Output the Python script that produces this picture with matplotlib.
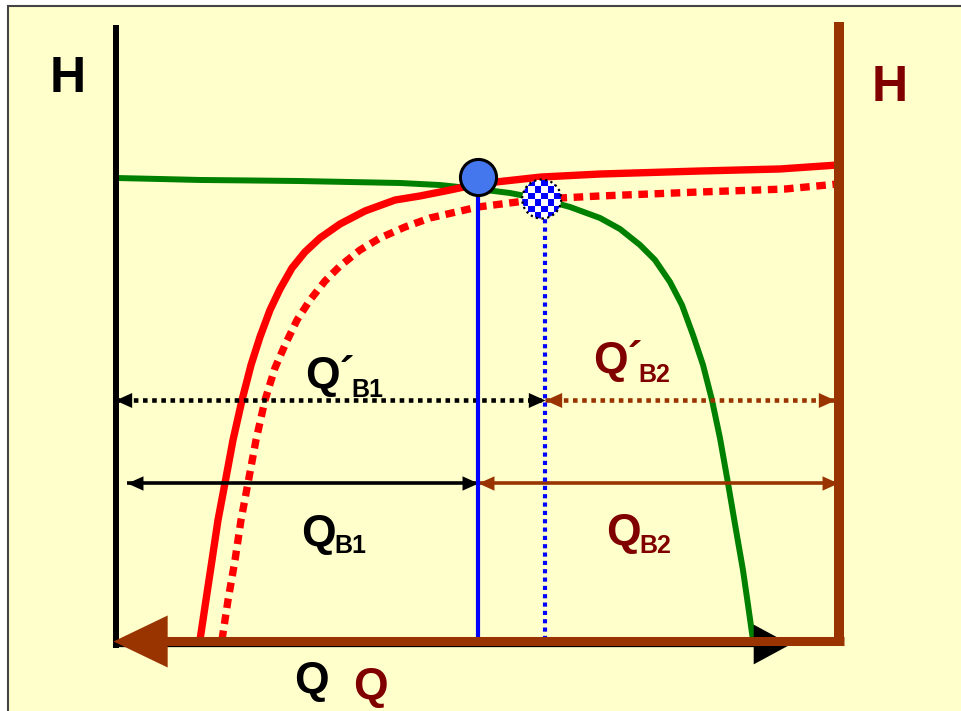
import numpy as np
import matplotlib
matplotlib.use("Agg")
import matplotlib.pyplot as plt
from matplotlib.patches import Ellipse, Rectangle
from matplotlib.path import Path
from matplotlib.colors import ListedColormap

# ---------------- data (Q: 0..100 between the two H axes, H: 0..100 above the Q axis)
green_q = [0, 5.96, 11.51, 18.45, 25.38, 32.32, 39.25, 44.80, 50.07, 54.51, 58.81, 62.83,
           66.99, 69.76, 72.54, 74.62, 76.70, 78.36, 79.89, 81.28, 82.52, 83.63, 84.74,
           85.85, 86.82, 87.52, 88.21]
green_h = [75.12, 74.96, 74.80, 74.72, 74.63, 74.47, 74.31, 73.98, 73.33, 72.68, 71.71, 70.41,
           68.62, 66.83, 64.23, 61.79, 58.21, 54.47, 49.59, 44.72, 39.02, 32.85, 25.53,
           17.89, 11.38, 5.69, 0]

red_q = [11.51, 12.34, 13.18, 14.01, 14.98, 16.09, 17.34, 18.59, 19.83, 21.22, 22.61, 24.27,
         26.07, 28.16, 30.93, 34.40, 38.56, 42.02, 46.19, 50.07, 58.81, 66.99, 80.86, 91.96, 100]
red_h = [0, 6.50, 13.01, 19.51, 25.53, 32.52, 39.02, 44.72, 49.27, 53.66, 57.07, 60.49,
         63.09, 65.37, 67.64, 69.76, 71.54, 72.20, 73.17, 74.15, 75.28, 75.77, 76.26, 76.59, 77.24]

red2_q = [14.56, 15.40, 16.37, 17.20, 18.17, 19.28, 20.53, 21.91, 23.30, 24.97, 26.77, 28.85,
          30.93, 33.70, 36.48, 39.94, 43.41, 50.07, 58.81, 66.99, 80.86, 92.65, 100]
red2_h = [0, 6.50, 13.01, 19.51, 25.53, 32.52, 39.02, 44.23, 47.97, 52.03, 55.28, 58.37,
          60.81, 63.41, 65.37, 67.15, 68.62, 70.41, 71.71, 72.20, 72.85, 73.33, 74.15]

op1 = (50.1, 75.3)      # blue operating point
op2 = (58.9, 71.7)      # checkered operating point
q_op1 = 50.0
q_op2 = 59.4
h_prime = 39.0          # level of Q'B1 / Q'B2 arrows
h_flow = 25.5           # level of QB1 / QB2 arrows

BROWN = "#993300"
DARKRED = "#800000"
BG = "#FFFFCC"

W, H = 961, 711
fig = plt.figure(figsize=(W / 100, H / 100), dpi=100)
fig.patch.set_facecolor("white")
fig.patches.append(Rectangle((8 / W, -0.1), 1.2, (H - 6) / H + 0.1, transform=fig.transFigure,
                             facecolor=BG, edgecolor="#444444", lw=1.5, zorder=-5))

# axes region: Q=0 at x=117px, Q=100 at x=838px ; H=0 at y=640px, H=100 at y=25px
x0, x1, ytop, ybot = 117, 838, 25, 640
ax = fig.add_axes([x0 / W, (H - ybot) / H, (x1 - x0) / W, (ybot - ytop) / H])
ax.set_zorder(1)
ax.set_xlim(0, 100)
ax.set_ylim(0, 100)
ax.axis("off")
ax.patch.set_alpha(0)

px_q = 100 / (x1 - x0)
px_h = 100 / (ybot - ytop)

def head(direction, ratio):
    if direction == "right":
        v = [(0, 0), (-1, ratio), (-1, -ratio), (0, 0)]
    else:
        v = [(0, 0), (1, ratio), (1, -ratio), (0, 0)]
    return Path(v, [Path.MOVETO, Path.LINETO, Path.LINETO, Path.CLOSEPOLY])

# ---------------- axes lines
ax.plot([-0.14, -0.14], [100, -1.3], color="black", lw=4.3, solid_capstyle="butt", clip_on=False, zorder=4)
ax.plot([-0.5, 90], [-0.7, -0.7], color="black", lw=3.8, solid_capstyle="butt", clip_on=False, zorder=4)
ax.plot([93.3], [-0.7], marker=head("right", 0.54), ms=53, color="black", mew=0, clip_on=False, zorder=4)

ax.plot([100.1, 100.1], [100.5, -0.9], color=BROWN, lw=7.2, solid_capstyle="butt", clip_on=False, zorder=5)
ax.plot([3, 100.8], [-0.15, -0.15], color=BROWN, lw=6.5, solid_capstyle="butt", clip_on=False, zorder=5)
ax.plot([-0.55], [-0.15], marker=head("left", 0.48), ms=78, color=BROWN, mew=0, clip_on=False, zorder=5)

# ---------------- curves
ax.plot(green_q, green_h, color="#008000", lw=4.3, solid_joinstyle="round", zorder=2)
ax.plot(red_q, red_h, color="#FF0000", lw=5.3, solid_joinstyle="round", zorder=2.5)
ax.plot(red2_q, red2_h, color="#FF0000", lw=5.3, linestyle=(0, (1.3, 0.9)),
        dash_capstyle="butt", zorder=2.6)

# ---------------- verticals through operating points
ax.plot([q_op1, q_op1], [0, op1[1]], color="#0000FF", lw=3.0, solid_capstyle="butt", zorder=3.5)
ax.plot([q_op2, q_op2], [0, op2[1]], color="#0000FF", lw=3.0, linestyle=(0, (1, 1)),
        dash_capstyle="butt", zorder=3.5)

# ---------------- flow arrows
def double_arrow(qa, qb, h, color, dotted, lw, ms, ratio):
    ls = (0, (1, 1)) if dotted else "-"
    ax.plot([qa, qb], [h, h], color=color, lw=lw, linestyle=ls, dash_capstyle="butt",
            solid_capstyle="butt", clip_on=False, zorder=3)
    ax.plot([qa], [h], marker=head("left", ratio), ms=ms, color=color, mew=0, clip_on=False, zorder=3)
    ax.plot([qb], [h], marker=head("right", ratio), ms=ms, color=color, mew=0, clip_on=False, zorder=3)

double_arrow(-0.3, q_op2, h_prime, "black", True, 3.3, 24, 0.45)
double_arrow(q_op2, 99.6, h_prime, BROWN, True, 3.3, 24, 0.45)
double_arrow(1.4, q_op1, h_flow, "black", False, 2.6, 23, 0.45)
double_arrow(q_op1, 100.0, h_flow, BROWN, False, 2.6, 23, 0.45)

# ---------------- operating points
ax.plot([op1[0]], [op1[1]], marker="o", ms=26, mfc="#4477EE", mec="black", mew=2.2, zorder=6)

ew, eh = 39 * px_q, 39 * px_h
ell = Ellipse(op2, ew, eh, facecolor="none", edgecolor="none")
ax.add_patch(ell)
checker = np.indices((6, 6)).sum(axis=0) % 2
im = ax.imshow(checker, cmap=ListedColormap(["white", "#0000FF"]), interpolation="nearest",
               extent=[op2[0] - ew / 2, op2[0] + ew / 2, op2[1] - eh / 2, op2[1] + eh / 2],
               aspect="auto", zorder=6)
im.set_clip_path(ell)
ax.add_patch(Ellipse(op2, ew, eh, facecolor="none", edgecolor="black", lw=1.6,
                     linestyle=(0, (1, 1.5)), zorder=7))
ax.set_xlim(0, 100)
ax.set_ylim(0, 100)

# ---------------- text
fnt = dict(family="Liberation Sans", weight="bold")

def txt(q, h, s, size, color, ha="left", va="baseline"):
    ax.text(q, h, s, fontsize=size, color=color, ha=ha, va=va, clip_on=False, **fnt)

txt(-6.8, 91.2, "H", 36, "black", ha="center", va="center")
txt(107.2, 89.8, "H", 36, DARKRED, ha="center", va="center")
txt(26.9, -8.6, "Q", 32, "black", ha="center")
txt(35.1, -9.6, "Q", 32, DARKRED, ha="center")

txt(26.1, 41.0, "Q\u00b4", 32, "black")
txt(32.5, 39.5, "B1", 18, "black")
txt(66.0, 43.4, "Q\u00b4", 32, DARKRED)
txt(72.3, 42.0, "B2", 18, DARKRED)
txt(25.5, 15.3, "Q", 32, "black")
txt(30.2, 14.1, "B1", 18, "black")
txt(67.8, 15.4, "Q", 32, DARKRED)
txt(72.5, 14.1, "B2", 18, DARKRED)

fig.savefig("out.png", dpi=100, facecolor=fig.get_facecolor())
